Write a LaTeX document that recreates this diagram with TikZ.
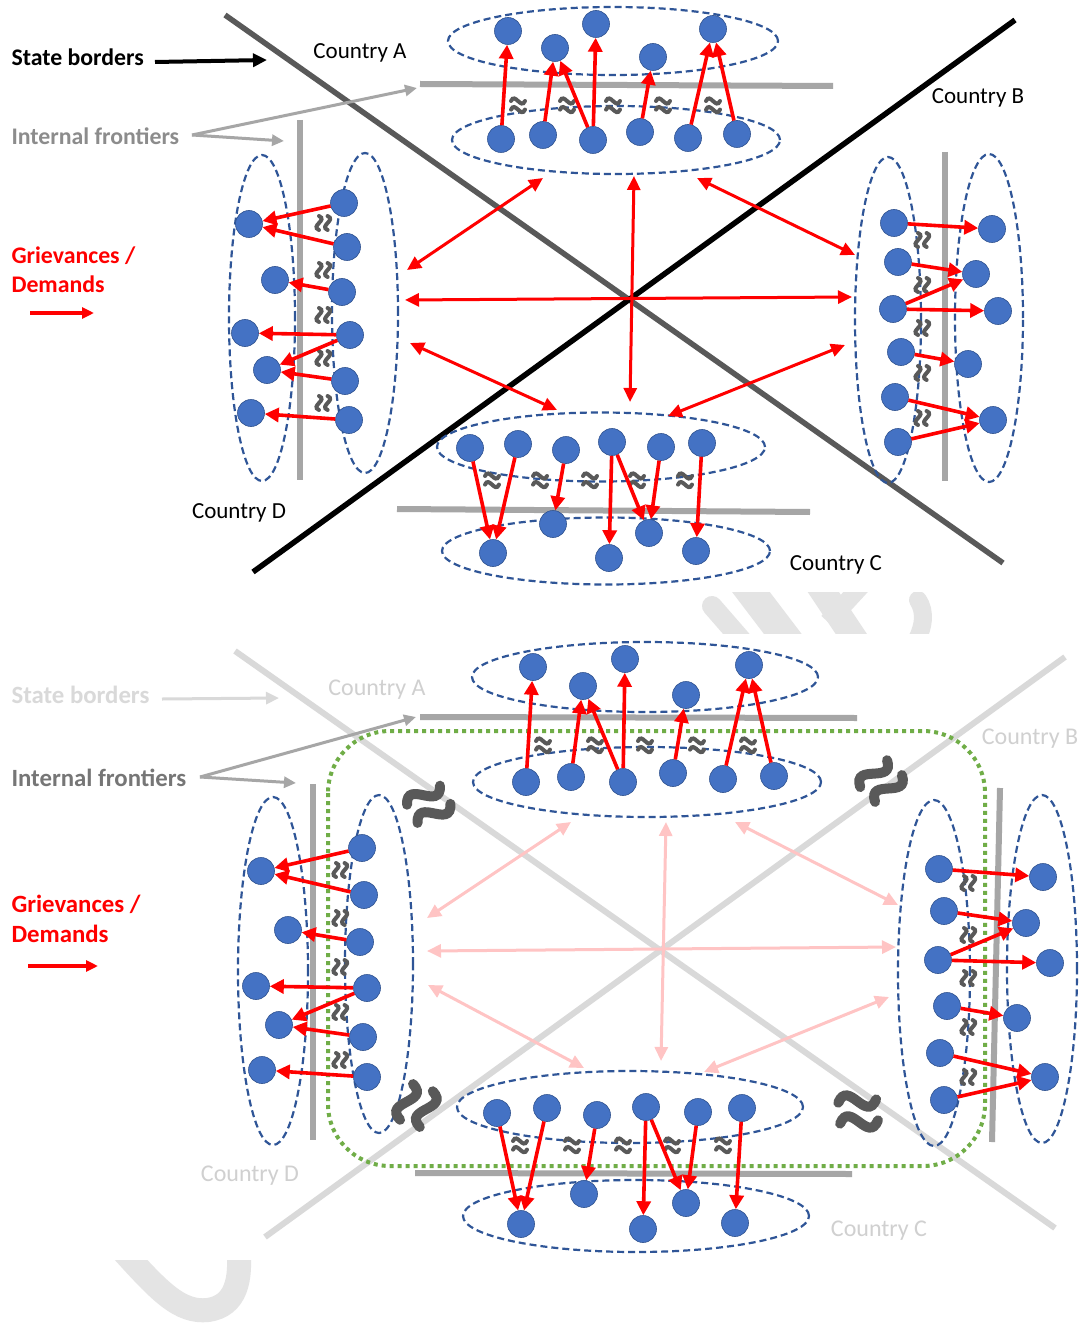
\documentclass[tikz,border=0pt]{standalone}
\usepackage{fontspec}
\setmainfont{Carlito}
\usetikzlibrary{arrows.meta,shapes.geometric}
\definecolor{nodeblue}{HTML}{4472C4}
\definecolor{nodeedge}{HTML}{2F528F}
\definecolor{elldash}{HTML}{2F5597}
\definecolor{frontier}{HTML}{A6A6A6}
\definecolor{darkborder}{HTML}{595959}
\definecolor{lightborder}{HTML}{D9D9D9}
\definecolor{wavegray}{HTML}{595959}
\definecolor{greendot}{HTML}{70AD47}
\definecolor{pinkred}{HTML}{FFC4C4}
\definecolor{wmark}{HTML}{E4E4E4}
\definecolor{labgray}{HTML}{8C8C8C}
\definecolor{labgrayb}{HTML}{767676}
\definecolor{ghost}{HTML}{D0D0D0}
\begin{document}
\begin{tikzpicture}[x=1pt,y=-1pt,
 dot/.style={circle,fill=nodeblue,draw=nodeedge,line width=0.6pt,minimum size=27pt,inner sep=0pt},
 ell/.style={ellipse,draw=elldash,line width=2.2pt,dash pattern=on 7pt off 4pt,inner sep=0pt},
 gd/.style={draw=red,line width=3.6pt,-{Triangle[length=14pt,width=14pt]}},
 crossarrow/.style={draw=red,line width=3pt,{Triangle[length=14pt,width=13pt]}-{Triangle[length=14pt,width=13pt]}},
 pinkarrow/.style={draw=pinkred,line width=3pt,{Triangle[length=14pt,width=13pt]}-{Triangle[length=14pt,width=13pt]}},
 frontierline/.style={draw=frontier,line width=6pt},
 wave/.pic={\draw[line width=4pt,wavegray,line cap=round] (-7,-4) .. controls (-3,-13) and (3,5) .. (7,-4);
            \draw[line width=4pt,wavegray,line cap=round] (-7,4.6) .. controls (-3,-4.4) and (3,13.6) .. (7,4.6);},
 bigwave/.pic={\draw[line width=10pt,wavegray,line cap=round] (-19,-9) .. controls (-7,-32) and (7,14) .. (19,-9);
               \draw[line width=10pt,wavegray,line cap=round] (-19,12) .. controls (-7,-11) and (7,35) .. (19,12);},
 toplab/.style={font=\fontsize{23}{27}\selectfont},
 botlab/.style={font=\fontsize{24}{28}\selectfont}
]
\useasboundingbox (0,0) rectangle (1083,1329);
\fill[white] (0,0) rectangle (1083,1329);

% ---------- watermark fragments ----------
\begin{scope}
\clip (0,592) rectangle (1083,633);
\draw[wmark,line width=20pt,line cap=round] (712,606) -- (752,652);
\draw[wmark,line width=30pt] (738,575) -- (795,650);
\draw[wmark,line width=26pt] (812,575) -- (862,650);
\draw[wmark,line width=18pt] (862,585) -- (828,622);
\draw[wmark,line width=18pt,line cap=round] (918,600) .. controls (926,612) and (924,628) .. (914,645);
\end{scope}
\begin{scope}
\clip (0,1260) rectangle (1083,1329);
\draw[wmark,line width=24pt] (122,1250) .. controls (160,1292) and (180,1313) .. (208,1310) .. controls (236,1306) and (242,1280) .. (238,1245);
\end{scope}

% ================= TOP PANEL =================
\draw[darkborder,line width=5.5pt] (225,15) -- (1003,563);
\draw[black,line width=5.5pt] (253,572) -- (1015,20);

\draw[frontierline] (420,84) -- (833,86);
\draw[frontierline] (300,120) -- (300,480);
\draw[frontierline] (945,152) -- (945,481);
\draw[frontierline] (397,509) -- (810,512);

% labels
\node[font=\fontsize{23.8}{28}\selectfont\bfseries,anchor=west] (sb) at (8,57) {State borders};
\coordinate (sbtip) at (267,60);
\draw[black,line width=4pt,-{Triangle[length=14pt,width=13pt]}] (155,62) -- (sbtip);
\node[font=\fontsize{23.8}{28}\selectfont\bfseries,text=labgray,anchor=west] (ifr) at (8,136) {Internal frontiers};
\coordinate (ifs) at (192,135);
\coordinate (ift1) at (417,88);
\coordinate (ift2) at (284,141);
\draw[frontier,line width=3pt,-{Triangle[length=12pt,width=11pt]}] (ifs) -- (ift1);
\draw[frontier,line width=3pt,-{Triangle[length=12pt,width=11pt]}] (ifs) -- (ift2);
\node[font=\fontsize{23.8}{28}\selectfont\bfseries,text=red,anchor=west] (gr) at (8,256) {Grievances /};
\node[font=\fontsize{23.8}{28}\selectfont\bfseries,text=red,anchor=west] (dm) at (8,284) {Demands};
\coordinate (lgs) at (30,313);
\coordinate (lge) at (94,313);
\draw[red,line width=3.2pt,-{Triangle[length=12pt,width=11pt]}] (lgs) -- (lge);

\node[toplab] (cA) at (360,53) {Country A};
\node[toplab] (cB) at (978,98) {Country B};
\node[toplab] (cD) at (239,513) {Country D};
\node[toplab] (cC) at (836,565) {Country C};

% ellipses
\node[ell,minimum width=330pt,minimum height=68pt] (Aup) at (613,41) {};
\node[ell,minimum width=328pt,minimum height=68pt] (Alow) at (616,140) {};
\node[ell,minimum width=66pt,minimum height=326pt] (DL) at (262,318) {};
\node[ell,minimum width=66pt,minimum height=320pt] (DR) at (365,313) {};
\node[ell,minimum width=66pt,minimum height=326pt] (BL) at (888,320) {};
\node[ell,minimum width=68pt,minimum height=328pt] (BR) at (989,318) {};
\node[ell,minimum width=328pt,minimum height=69pt] (Cup) at (601,447) {};
\node[ell,minimum width=328pt,minimum height=67pt] (Clow) at (606,551) {};

% squiggles
\foreach \x in {518,567,613,663,713} \pic at (\x,105) {wave};
\foreach \x in {492,540,590,637,685} \pic at (\x,480) {wave};
\foreach \y in {223,270,315,358,403} \pic[rotate=90] at (323,\y) {wave};
\foreach \y in {240,285,328,373,418} \pic[rotate=90] at (922,\y) {wave};

% nodes
\foreach \n/\x/\y in {au1/508/31,au2/555/48,au3/596/24,au4/653/57,au5/713/29,
  al1/501/139,al2/543/135,al3/593/140,al4/640/132,al5/688/138,al6/737/134,
  dl1/249/224,dl2/275/280,dl3/245/333,dl4/267/370,dl5/251/413,
  dr1/344/203,dr2/347/247,dr3/342/292,dr4/350/335,dr5/345/381,dr6/349/420,
  bl1/894/223,bl2/898/262,bl3/893/309,bl4/901/352,bl5/895/397,bl6/898/442,
  br1/992/229,br2/976/274,br3/998/311,br4/968/364,br5/993/420,
  cu1/470/448,cu2/518/444,cu3/566/450,cu4/612/442,cu5/661/447,cu6/702/443,
  cl1/493/553,cl2/553/524,cl3/609/558,cl4/649/533,cl5/696/551}
  \node[dot] (\n) at (\x,\y) {};

\foreach \s/\t in {al1/au1,al2/au2,al3/au2,al3/au3,al4/au4,al5/au5,al6/au5,
  dr1/dl1,dr2/dl1,dr3/dl2,dr4/dl3,dr4/dl4,dr5/dl4,dr6/dl5,
  bl1/br1,bl2/br2,bl3/br2,bl3/br3,bl4/br4,bl5/br5,bl6/br5,
  cu1/cl1,cu2/cl1,cu3/cl2,cu4/cl3,cu4/cl4,cu5/cl4,cu6/cl5}
  \draw[gd] (\s) -- (\t);

% central arrows
\coordinate (tv1) at (634,176); \coordinate (tv2) at (630,402);
\coordinate (th1) at (405,300); \coordinate (th2) at (852,297);
\coordinate (tl1) at (543,178); \coordinate (tl2) at (407,270);
\coordinate (tr1) at (697,178); \coordinate (tr2) at (855,255);
\coordinate (bl1c) at (410,343); \coordinate (bl2c) at (557,410);
\coordinate (br1c) at (668,416); \coordinate (br2c) at (845,345);
\draw[crossarrow] (tv1) -- (tv2);
\draw[crossarrow] (th1) -- (th2);
\draw[crossarrow] (tl1) -- (tl2);
\draw[crossarrow] (tr1) -- (tr2);
\draw[crossarrow] (bl1c) -- (bl2c);
\draw[crossarrow] (br1c) -- (br2c);

% ================= BOTTOM PANEL =================
\draw[lightborder,line width=6pt] (235,651) -- (1055,1228);
\draw[lightborder,line width=6pt] (265,1237) -- (1065,657);

\draw[frontierline] (420,717) -- (857,718);
\draw[frontierline] (313,784) -- (313,1140);
\draw[frontierline] (1000,788) -- (992,1142);
\draw[frontierline] (415,1173) -- (852,1174);

\draw[greendot,line width=4pt,dash pattern=on 4pt off 4pt,rounded corners=62pt] (328,731) rectangle (985,1166);

\node[font=\fontsize{24.8}{29}\selectfont\bfseries,text=lightborder,anchor=west] (qsb) at (8,695) {State borders};
\coordinate (qsbs) at (162,699);
\coordinate (qsbt) at (279,698);
\draw[lightborder,line width=3pt,-{Triangle[length=13pt,width=12pt]}] (qsbs) -- (qsbt);
\node[font=\fontsize{24.8}{29}\selectfont\bfseries,text=labgrayb,anchor=west] (qifr) at (8,778) {Internal frontiers};
\coordinate (qifs) at (200,777);
\coordinate (qift1) at (416,717);
\coordinate (qift2) at (296,783);
\draw[frontier,line width=3pt,-{Triangle[length=12pt,width=11pt]}] (qifs) -- (qift1);
\draw[frontier,line width=3pt,-{Triangle[length=12pt,width=11pt]}] (qifs) -- (qift2);
\node[font=\fontsize{24.8}{29}\selectfont\bfseries,text=red,anchor=west] (qgr) at (8,904) {Grievances /};
\node[font=\fontsize{24.8}{29}\selectfont\bfseries,text=red,anchor=west] (qdm) at (8,934) {Demands};
\coordinate (qlgs) at (28,966);
\coordinate (qlge) at (98,966);
\draw[red,line width=3.2pt,-{Triangle[length=12pt,width=11pt]}] (qlgs) -- (qlge);

\node[botlab,text=ghost] (qcA) at (377,690) {Country A};
\node[botlab,text=ghost] (qcB) at (1030,739) {Country B};
\node[botlab,text=ghost] (qcD) at (250,1176) {Country D};
\node[botlab,text=ghost] (qcC) at (879,1231) {Country C};

% pink central arrows
\coordinate (pv1) at (666,822); \coordinate (pv2) at (661,1061);
\coordinate (ph1) at (427,951); \coordinate (ph2) at (896,947);
\coordinate (pl1) at (571,822); \coordinate (pl2) at (427,918);
\coordinate (pr1) at (735,822); \coordinate (pr2) at (898,905);
\coordinate (pbl1) at (428,985); \coordinate (pbl2) at (584,1068);
\coordinate (pbr1) at (704,1072); \coordinate (pbr2) at (889,997);
\draw[pinkarrow] (pv1) -- (pv2);
\draw[pinkarrow] (ph1) -- (ph2);
\draw[pinkarrow] (pl1) -- (pl2);
\draw[pinkarrow] (pr1) -- (pr2);
\draw[pinkarrow] (pbl1) -- (pbl2);
\draw[pinkarrow] (pbr1) -- (pbr2);

% ellipses
\node[ell,minimum width=346pt,minimum height=70pt] (qAup) at (645,677) {};
\node[ell,minimum width=348pt,minimum height=70pt] (qAlow) at (647,782) {};
\node[ell,minimum width=70pt,minimum height=348pt] (qDL) at (273,971) {};
\node[ell,minimum width=68pt,minimum height=338pt] (qDR) at (379,964) {};
\node[ell,minimum width=72pt,minimum height=346pt] (qBL) at (934,973) {};
\node[ell,minimum width=70pt,minimum height=348pt] (qBR) at (1042,969) {};
\node[ell,minimum width=346pt,minimum height=72pt] (qCup) at (630,1107) {};
\node[ell,minimum width=346pt,minimum height=72pt] (qClow) at (636,1216) {};

% squiggles
\foreach \x in {543,595,645,697,748} \pic at (\x,745) {wave};
\foreach \x in {520,572,623,672,723} \pic at (\x,1145) {wave};
\foreach \y in {870,918,967,1012,1060} \pic[rotate=90] at (340,\y) {wave};
\foreach \y in {883,935,978,1027,1077} \pic[rotate=90] at (968,\y) {wave};

\pic[rotate=30] at (428,803) {bigwave};
\pic[rotate=45] at (880,780) {bigwave};
\pic[rotate=70] at (415,1105) {bigwave};
\pic[rotate=5] at (858,1110) {bigwave};

\foreach \n/\x/\y in {qau1/533/667,qau2/583/686,qau3/625/659,qau4/686/695,qau5/749/665,
  qal1/526/782,qal2/571/777,qal3/623/782,qal4/673/773,qal5/723/779,qal6/774/776,
  qdl1/261/871,qdl2/288/930,qdl3/256/986,qdl4/279/1025,qdl5/262/1070,
  qdr1/362/848,qdr2/364/895,qdr3/360/942,qdr4/367/988,qdr5/363/1037,qdr6/367/1077,
  qbl1/939/869,qbl2/944/911,qbl3/938/960,qbl4/947/1006,qbl5/940/1053,qbl6/944/1100,
  qbr1/1043/877,qbr2/1026/923,qbr3/1050/963,qbr4/1017/1018,qbr5/1045/1077,
  qcu1/497/1113,qcu2/547/1108,qcu3/597/1115,qcu4/646/1107,qcu5/698/1112,qcu6/742/1108,
  qcl1/521/1224,qcl2/584/1194,qcl3/643/1229,qcl4/686/1203,qcl5/735/1223}
  \node[dot] (\n) at (\x,\y) {};

\foreach \s/\t in {qal1/qau1,qal2/qau2,qal3/qau2,qal3/qau3,qal4/qau4,qal5/qau5,qal6/qau5,
  qdr1/qdl1,qdr2/qdl1,qdr3/qdl2,qdr4/qdl3,qdr4/qdl4,qdr5/qdl4,qdr6/qdl5,
  qbl1/qbr1,qbl2/qbr2,qbl3/qbr2,qbl3/qbr3,qbl4/qbr4,qbl5/qbr5,qbl6/qbr5,
  qcu1/qcl1,qcu2/qcl1,qcu3/qcl2,qcu4/qcl3,qcu4/qcl4,qcu5/qcl4,qcu6/qcl5}
  \draw[gd] (\s) -- (\t);
\end{tikzpicture}
\end{document}
